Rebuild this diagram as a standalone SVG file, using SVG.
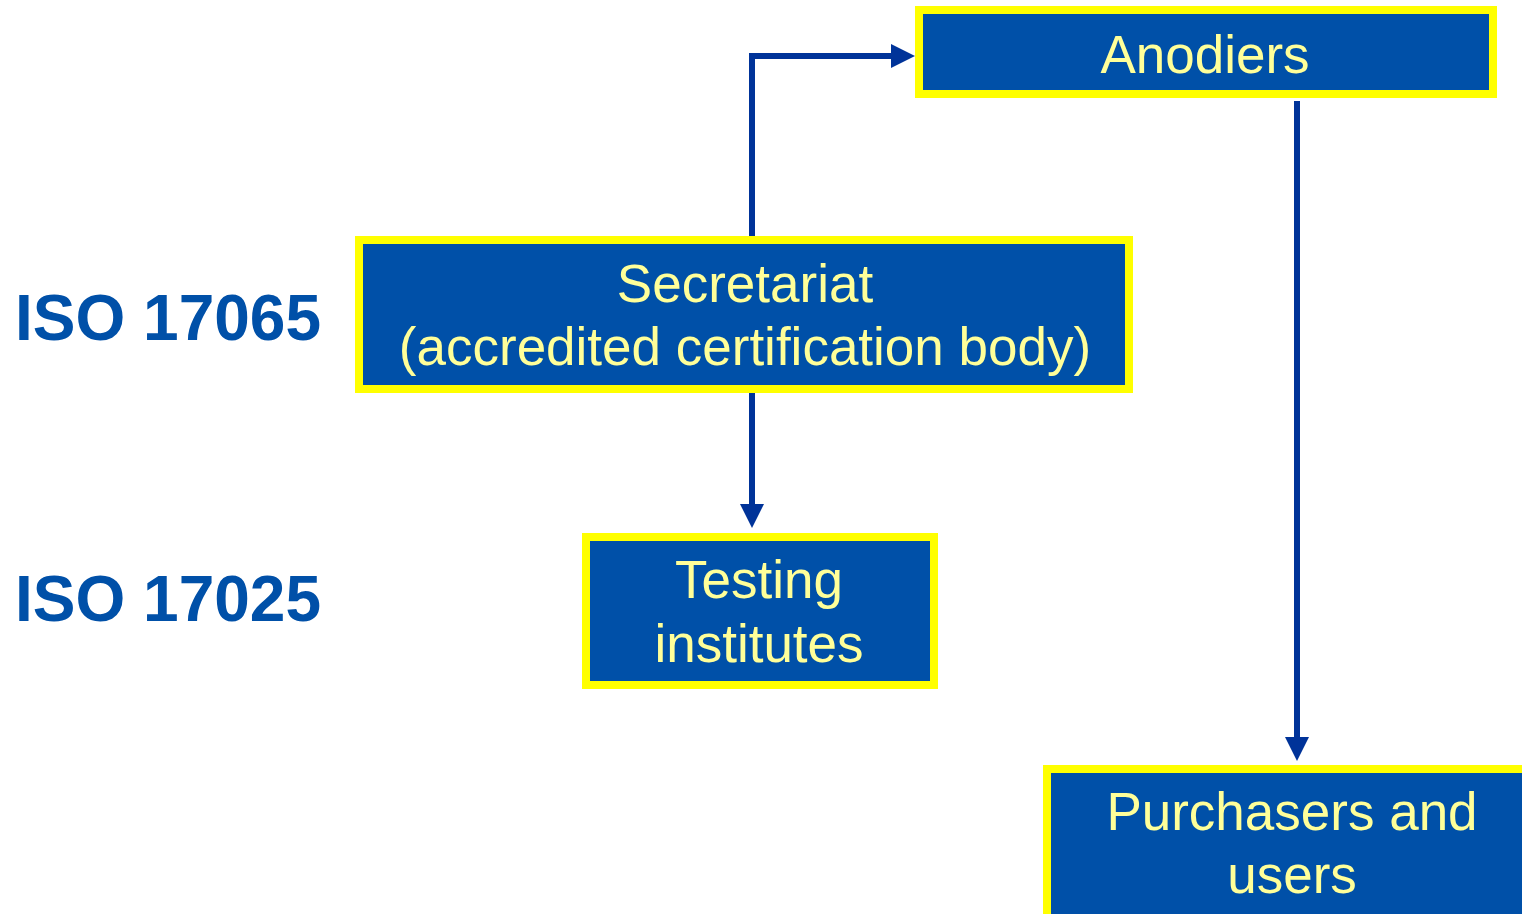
<svg xmlns="http://www.w3.org/2000/svg" width="1522" height="914" viewBox="0 0 1522 914">
<style>
.box{fill:#0050a8;stroke:#ffff00;stroke-width:8}
.t{font-family:"Liberation Sans",Arial,sans-serif;font-size:53px;fill:#ffff99;text-anchor:middle}
.iso{font-family:"Liberation Sans",Arial,sans-serif;font-size:64px;font-weight:bold;fill:#0050a8}
.c{fill:none;stroke:#003399;stroke-width:6}
</style>
<defs>
<marker id="ah" markerUnits="userSpaceOnUse" markerWidth="26" markerHeight="26" refX="0" refY="12" orient="auto">
<path d="M0,0 L24,12 L0,24 Z" fill="#003399"/>
</marker>
</defs>
<rect width="1522" height="914" fill="#ffffff"/>
<g id="connectors">
<path class="c" d="M752,237 V56 H891" marker-end="url(#ah)"/>
<path class="c" d="M752,393 V504" marker-end="url(#ah)"/>
<path class="c" d="M1297,101 V737" marker-end="url(#ah)"/>
</g>
<g id="anodiers">
<rect class="box" x="919" y="10" width="574" height="84"/>
<text class="t" x="1205" y="73">Anodiers</text>
</g>
<g id="secretariat">
<rect class="box" x="359" y="240" width="770" height="149"/>
<text class="t" x="745" y="302">Secretariat</text>
<text class="t" x="745" y="365">(accredited certification body)</text>
</g>
<g id="testing">
<rect class="box" x="586" y="537" width="348" height="148"/>
<text class="t" x="759" y="598">Testing</text>
<text class="t" x="759" y="662">institutes</text>
</g>
<g id="purchasers">
<rect class="box" x="1047" y="769" width="490" height="160"/>
<text class="t" x="1292" y="830">Purchasers and</text>
<text class="t" x="1292" y="893">users</text>
</g>
<g id="iso17065">
<text class="iso" x="15" y="340">ISO 17065</text>
</g>
<g id="iso17025">
<text class="iso" x="15" y="621">ISO 17025</text>
</g>
</svg>
